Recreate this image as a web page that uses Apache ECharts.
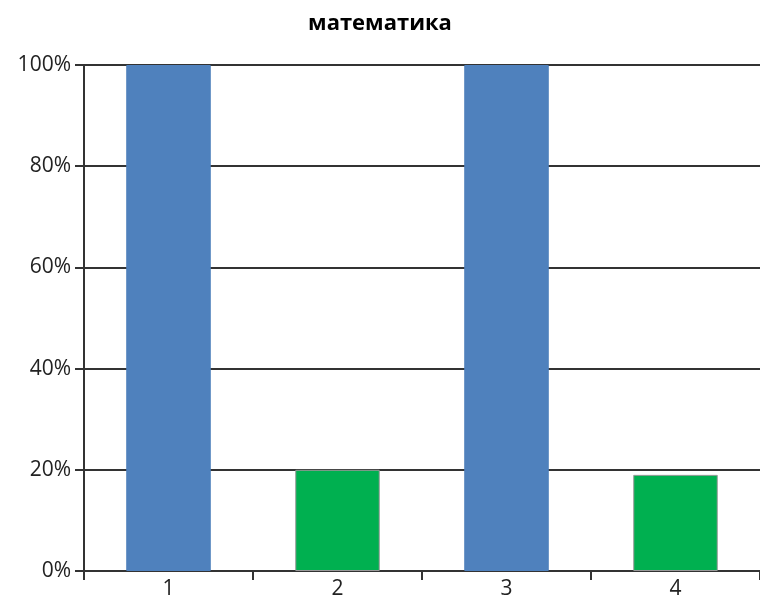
<!DOCTYPE html>
<html><head><meta charset="utf-8">
<script src="https://cdn.jsdelivr.net/npm/echarts@6/dist/echarts.min.js"></script>
<style>html,body{margin:0;padding:0;background:#fff}#c{width:760px;height:610px}</style>
</head><body><div id="c"></div>
<script>
const categories = ['1', '2', '3', '4'];
const values = [100, 20, 100, 19];
const barColors = ['#4F81BD', '#00B050', '#4F81BD', '#00B050'];
const yTicks = [0, 20, 40, 60, 80, 100];

const chart = echarts.init(document.getElementById('c'));
chart.setOption({
  animation: false,
  title: {
    text: 'математика', left: 'center', top: 8,
    textStyle: { fontFamily: 'Open Sans', fontWeight: 'bold', fontSize: 22, color: '#000' }
  },
  grid: { left: 84, right: 0, top: 65, bottom: 39 },
  xAxis: {
    type: 'category', data: categories, boundaryGap: true,
    axisLine: { lineStyle: { color: '#333', width: 2 } },
    axisTick: { show: true, inside: false, alignWithLabel: false, length: 9, lineStyle: { color: '#333', width: 2 } },
    axisLabel: { fontFamily: 'Open Sans', fontSize: 21, color: '#222', margin: 8 }
  },
  yAxis: {
    type: 'value', min: yTicks[0], max: yTicks[yTicks.length - 1], interval: 20,
    axisLine: { show: true, lineStyle: { color: '#333', width: 2 } },
    axisTick: { show: true, inside: false, length: 9, lineStyle: { color: '#333', width: 2 } },
    axisLabel: { fontFamily: 'Open Sans', fontSize: 21, color: '#222', margin: 13, formatter: '{value}%' },
    splitLine: { show: true, lineStyle: { color: '#333', width: 2 } }
  },
  series: [{
    type: 'bar', barWidth: '50%',
    data: values.map((v, i) => ({ value: v, itemStyle: { color: barColors[i], borderColor: i % 2 ? '#999' : barColors[i], borderWidth: 1 } }))
  }]
});
</script></body></html>
